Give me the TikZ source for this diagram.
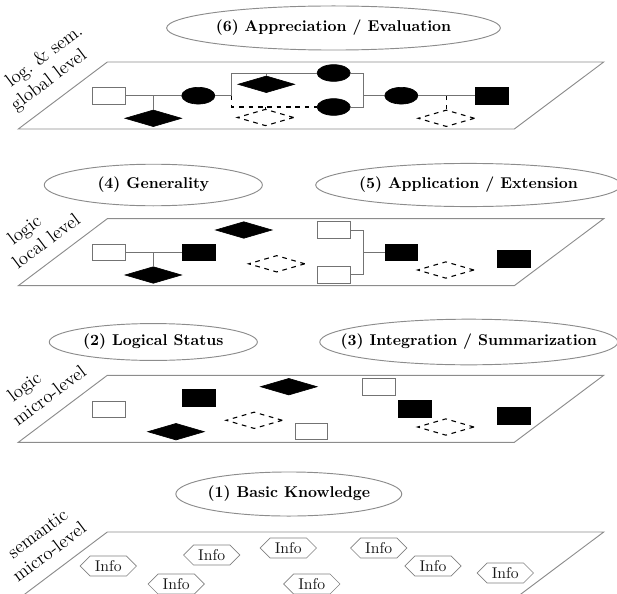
\documentclass[tikz,border=0pt]{standalone}
\usetikzlibrary{shapes.geometric,shapes.symbols}
\def\levelplane#1{\draw[levelsheet] (18.3,#1+67) -- (514.3,#1+67) -- (603.7,#1) -- (107.3,#1) -- cycle;}

\begin{document}
\begin{tikzpicture}[x=0.64pt, y=-0.64pt,
	levelsheet/.style={draw=black!45, line width=0.6pt},
	wire/.style={draw=black!55, line width=0.6pt},
	dashwire/.style={draw=black, line width=0.7pt, dashed},
	goal/.style={font=\bfseries, inner sep=0pt},
	ring/.style={draw=black!45, line width=0.6pt},
	levelnote/.style={font=\large, rotate=37, align=left, anchor=south west, inner sep=0pt},
	whitebox/.style={rectangle, draw=black!55, fill=white, minimum width=20.9pt, minimum height=10.6pt, inner sep=0pt},
	blackbox/.style={rectangle, draw=black, fill=black, minimum width=20.9pt, minimum height=10.6pt, inner sep=0pt},
	blackoval/.style={ellipse, draw=black, fill=black, minimum width=21.3pt, minimum height=10.7pt, inner sep=0pt},
	blackdiamond/.style={diamond, draw=black, fill=black, minimum width=36.3pt, minimum height=10.7pt, inner sep=0pt},
	dashdiamond/.style={diamond, draw=black, dashed, line width=0.7pt, minimum width=36.3pt, minimum height=10.7pt, inner sep=0pt},
	info/.style={signal, signal to=east and west, draw=black!50, text=black!90, minimum height=12.8pt, inner xsep=3pt, inner ysep=1pt}]
		%%%%% START %%%%%
		\useasboundingbox (0,0) rectangle (617,593);
		
		% level planes
		\levelplane{62}
		\levelplane{218.7}
		\levelplane{375.3}
		\levelplane{532}
		
		% plane labels
		\node[levelnote] (n6) at (18.3,115) {\hspace*{0.55em}log.\ \&\ sem.\\global level};
		\node[levelnote] (n4) at (18.3,270.2) {\hspace*{0.55em}logic\\local level};
		\node[levelnote] (n2) at (18.3,426.8) {\hspace*{0.55em}logic\\micro-level};
		\node[levelnote] (n1) at (18.3,583.5) {\hspace*{0.55em}semantic\\micro-level};
		
		% competence goals
		\node[goal] (e6) at (333.5,28) {(6) Appreciation / Evaluation};
		\draw[ring] (e6.center) ellipse [x radius=106.8pt, y radius=14.1pt];
		\node[goal] (e4) at (153.3,185) {(4) Generality};
		\draw[ring] (e4.center) ellipse [x radius=69.8pt, y radius=13.3pt];
		\node[goal] (e5) at (468.5,185) {(5) Application / Extension};
		\draw[ring] (e5.center) ellipse [x radius=97.8pt, y radius=13.8pt];
		\node[goal] (e2) at (153.3,342) {(2) Logical Status};
		\draw[ring] (e2.center) ellipse [x radius=66.6pt, y radius=11.8pt];
		\node[goal] (e3) at (468.8,342) {(3) Integration / Summarization};
		\draw[ring] (e3.center) ellipse [x radius=95.4pt, y radius=14.6pt];
		\node[goal] (e1) at (288.8,494) {(1) Basic Knowledge};
		\draw[ring] (e1.center) ellipse [x radius=72.3pt, y radius=14.1pt];
		
		% global level
		\node[whitebox] (g1) at (108.7,95.7) {};
		\node[blackoval] (g2) at (198.3,95.7) {};
		\node[blackdiamond] (g3) at (153.3,118.3) {};
		\node[blackdiamond] (g4) at (266.3,84.3) {};
		\node[dashdiamond] (g5) at (265.5,117.5) {};
		\node[blackoval] (g6) at (333.7,73) {};
		\node[blackoval] (g7) at (333.7,107) {};
		\node[blackoval] (g8) at (401.3,95.7) {};
		\node[blackbox] (g9) at (491.7,95.7) {};
		\node[dashdiamond] (g10) at (446.3,118.3) {};
		\coordinate (gs) at (231.7,95.7);
		\coordinate (gj) at (363,95.7);
		
		\draw[wire] (g1) -- (g2);
		\draw[wire] (g3.north) -- (g3.north |- g1);
		\draw[wire] (g2) -- (gs) |- (g6);
		\draw[dashwire] (gs) |- (g7);
		\draw[wire] (g4.north) -- (g4.north |- g6);
		\draw[dashwire] (g5.north) -- (g5.north |- g7);
		\draw[wire] (g6) -| (gj);
		\draw[wire] (g7) -| (gj);
		\draw[wire] (gj) -- (g8);
		\draw[wire] (g8) -- (g9);
		\draw[dashwire] (g10.north) -- (g10.north |- g8);
		
		% local level
		\node[whitebox] (l1) at (108.7,252.2) {};
		\node[blackbox] (l2) at (198.7,252.2) {};
		\node[blackdiamond] (l3) at (153.3,275) {};
		\node[blackdiamond] (l4) at (243.8,230) {};
		\node[dashdiamond] (l5) at (276.7,263.8) {};
		\node[whitebox] (l6) at (333.7,230) {};
		\node[whitebox] (l7) at (333.7,274.7) {};
		\node[blackbox] (l8) at (401.3,252.3) {};
		\node[dashdiamond] (l9) at (445.8,270) {};
		\node[blackbox] (l10) at (514,259) {};
		\coordinate (lj) at (363,252.3);
		
		\draw[wire] (l1) -- (l2);
		\draw[wire] (l3.north) -- (l3.north |- l1);
		\draw[wire] (l6) -| (lj);
		\draw[wire] (l7) -| (lj);
		\draw[wire] (lj) -- (l8);
		
		% micro level
		\node[whitebox] (m1) at (108.7,409.2) {};
		\node[blackbox] (m2) at (198.7,397.7) {};
		\node[blackdiamond] (m3) at (176,431.7) {};
		\node[blackdiamond] (m4) at (288.8,386.7) {};
		\node[dashdiamond] (m5) at (254.2,420.3) {};
		\node[whitebox] (m6) at (311.3,431.3) {};
		\node[whitebox] (m7) at (379,387) {};
		\node[blackbox] (m8) at (415,409) {};
		\node[dashdiamond] (m9) at (445.8,427) {};
		\node[blackbox] (m10) at (514,416) {};
		
		% semantic level
		\node[info] (i1) at (108.3,566) {Info};
		\node[info] (i2) at (211.7,555) {Info};
		\node[info] (i3) at (176.2,584) {Info};
		\node[info] (i4) at (288.3,548) {Info};
		\node[info] (i5) at (311.8,584) {Info};
		\node[info] (i6) at (378.7,548) {Info};
		\node[info] (i7) at (433,566) {Info};
		\node[info] (i8) at (505.3,573) {Info};
		
		%%%%% END %%%%%
\end{tikzpicture}
\end{document}
